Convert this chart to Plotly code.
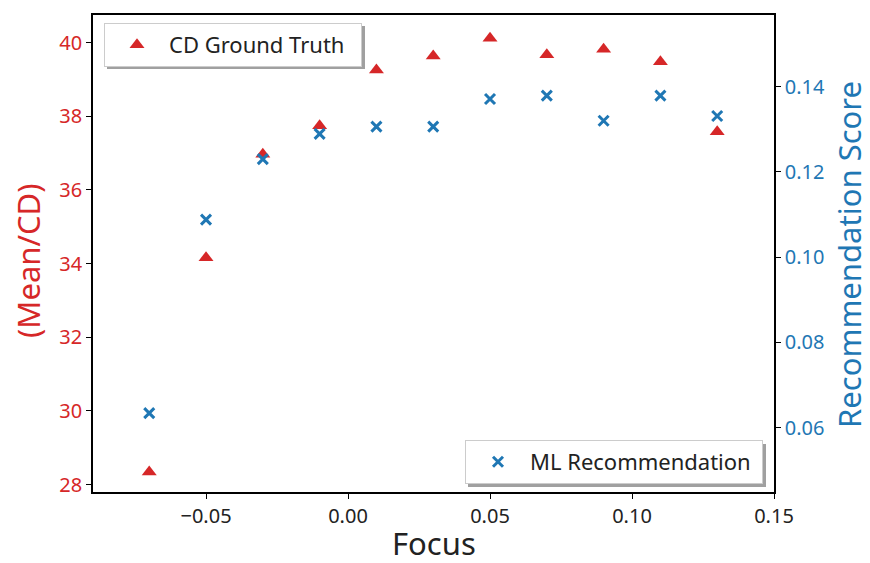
import plotly.graph_objects as go

focus = [-0.07, -0.05, -0.03, -0.01, 0.01, 0.03, 0.05, 0.07, 0.09, 0.11, 0.13]
cd_ground_truth = [28.34, 34.16, 36.97, 37.74, 39.26, 39.64, 40.12, 39.67, 39.82, 39.48, 37.58]
ml_recommendation = [0.0634, 0.1088, 0.1230, 0.1289, 0.1306, 0.1306, 0.1371, 0.1379, 0.1320, 0.1379, 0.1331]

x_title = "Focus"
y_title = "(Mean/CD)"
y2_title = "Recommendation Score"

RED = "#d62728"
BLUE = "#1f77b4"
FONT = "Noto Sans"

W, H = 870, 563
L, R, T, B = 93, 96, 15, 71
pw, ph = W - L - R, H - T - B

def px(x):
    return (x - L) / pw

def py(y):
    return (H - B - y) / ph

fig = go.Figure()
fig.add_trace(go.Scatter(
    x=focus, y=cd_ground_truth, mode="markers", name="CD Ground Truth\u00a0\u00a0",
    marker=dict(symbol="triangle-up", size=13, color=RED),
    legend="legend", yaxis="y",
))
fig.add_trace(go.Scatter(
    x=focus, y=ml_recommendation, mode="markers", name="ML Recommendation\u00a0",
    marker=dict(symbol="x-thin", size=10, color=BLUE, line=dict(color=BLUE, width=3)),
    legend="legend2", yaxis="y2",
))

# legend shadows
shapes = [
    dict(type="rect", xref="paper", yref="paper", x0=px(107), x1=px(365), y0=py(26), y1=py(69),
         fillcolor="#a0a0a0", line=dict(width=0), layer="above"),
    dict(type="rect", xref="paper", yref="paper", x0=px(468), x1=px(766), y0=py(444), y1=py(487),
         fillcolor="#a0a0a0", line=dict(width=0), layer="above"),
]

annotations = [
    dict(text=x_title, xref="paper", yref="paper", x=px(434), y=py(543),
         xanchor="center", yanchor="middle", showarrow=False, borderpad=0,
         font=dict(family=FONT, size=31, color="#222")),
    dict(text=y_title, xref="paper", yref="paper", x=px(28), y=py(261),
         xanchor="center", yanchor="middle", showarrow=False, textangle=-90, borderpad=0,
         font=dict(family=FONT, size=31, color=RED)),
    dict(text=y2_title, xref="paper", yref="paper", x=px(849), y=py(255),
         xanchor="center", yanchor="middle", showarrow=False, textangle=-90, borderpad=0,
         font=dict(family=FONT, size=31, color=BLUE)),
]

fig.update_layout(
    width=W, height=H,
    margin=dict(l=L, r=R, t=T, b=B, autoexpand=False),
    paper_bgcolor="white", plot_bgcolor="white",
    font=dict(family=FONT, size=20, color="black"),
    showlegend=True,
    shapes=shapes,
    annotations=annotations,
    xaxis=dict(
        range=[-0.0898, 0.15], tickvals=[-0.05, 0.0, 0.05, 0.10, 0.15],
        ticktext=["\u22120.05", "0.00", "0.05", "0.10", "0.15"],
        showgrid=False, zeroline=False, showline=True, linecolor="black", linewidth=1.5,
        mirror=True, ticks="outside", ticklen=5, tickcolor="black", automargin=False,
        tickfont=dict(size=20, color="#222"),
    ),
    yaxis=dict(
        range=[27.80, 40.75], tickvals=[28, 30, 32, 34, 36, 38, 40],
        ticksuffix="\u00a0",
        showgrid=False, zeroline=False, showline=True, linecolor="black", linewidth=1.5,
        ticks="outside", ticklen=5, tickcolor="black", automargin=False,
        tickfont=dict(size=20, color=RED),
    ),
    yaxis2=dict(
        range=[0.0449, 0.1568], tickvals=[0.06, 0.08, 0.10, 0.12, 0.14],
        ticktext=["0.06", "0.08", "0.10", "0.12", "0.14"],
        overlaying="y", side="right",
        showgrid=False, zeroline=False, showline=True, linecolor="black", linewidth=1.5,
        ticks="outside", ticklen=5, tickcolor="black", automargin=False,
        tickfont=dict(size=20, color=BLUE),
    ),
    legend=dict(
        x=px(104), y=py(23), xanchor="left", yanchor="top",
        bgcolor="white", bordercolor="#cccccc", borderwidth=1,
        font=dict(size=22, color="#222"), itemwidth=54,
    ),
    legend2=dict(
        x=px(763), y=py(484), xanchor="right", yanchor="bottom",
        bgcolor="white", bordercolor="#cccccc", borderwidth=1,
        font=dict(size=22, color="#222"), itemwidth=54,
    ),
)

fig.write_html("out.html")
